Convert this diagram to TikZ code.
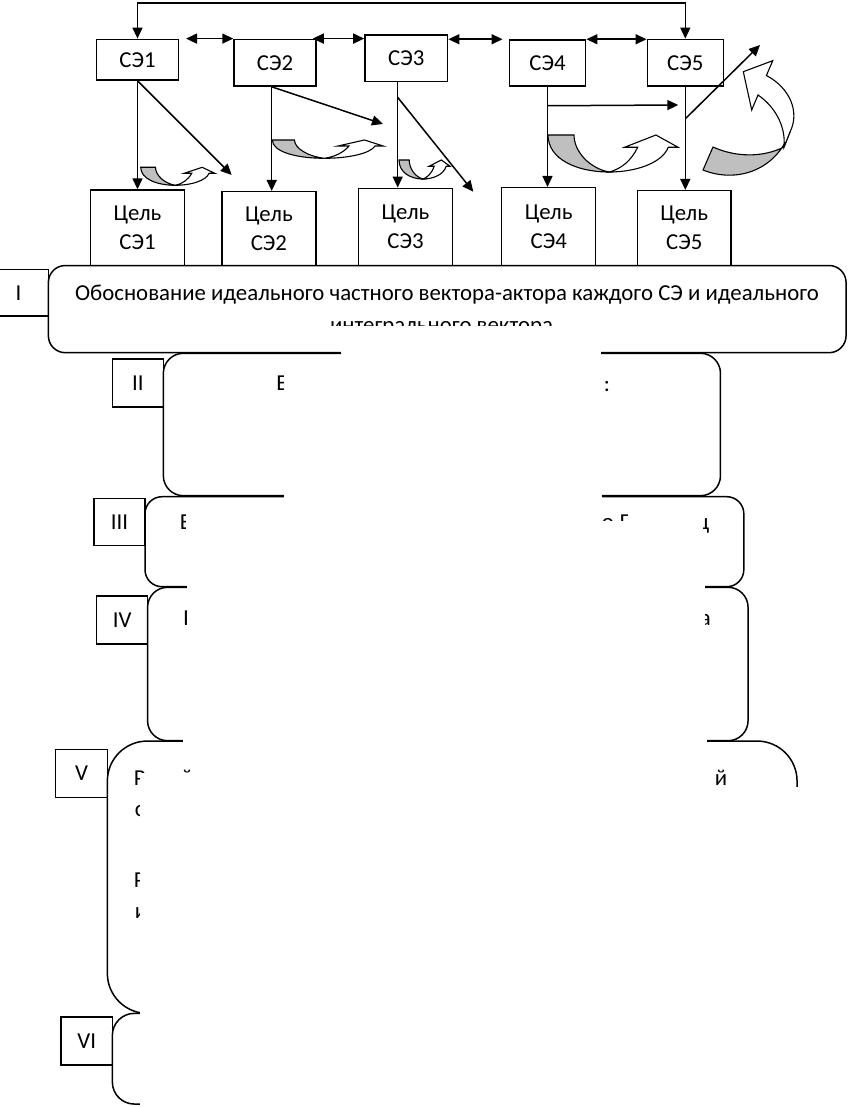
\documentclass[tikz,border=0pt]{standalone}
\usepackage{fontspec}
\setmainfont{Carlito}
\usetikzlibrary{arrows.meta,positioning,calc}

% curved ribbon arrow: x0, y0, width, height
\newcommand{\curvarrow}[4]{%
  \begin{scope}[shift={(#1,#2)},x=#3pt,y=-#4pt,line width=1.1pt]
    \filldraw[fill=black!25] (0,0) .. controls (0,0.65) and (0.22,1) .. (0.47,1)
      .. controls (0.32,0.9) and (0.2,0.45) .. (0.2,0) -- cycle;
    \filldraw[fill=white] (0.47,1) .. controls (0.68,1) and (0.88,0.75) .. (0.925,0.33)
      -- (1,0.33) -- (0.83,0) -- (0.59,0.33) -- (0.69,0.33)
      .. controls (0.64,0.7) and (0.56,0.92) .. (0.47,1) -- cycle;
  \end{scope}}

\tikzset{
  box/.style 2 args={draw,minimum width=#1,minimum height=#2,inner sep=0pt,
    align=center,font=\fontsize{22.8}{29}\selectfont},
  stage/.style 2 args={draw,fill=white,minimum width=#1,minimum height=#2,inner sep=0pt},
  frag/.style={anchor=base west,inner sep=0pt,font=\fontsize{22.8}{27}\selectfont},
  cover/.style={fill=white}
}

\begin{document}
\begin{tikzpicture}[x=1pt,y=-1pt,line width=1.5pt,>={Triangle[length=11pt,width=10pt]}]
\useasboundingbox (0,0) rectangle (850,1107);

% elements and their goals
\node[box={81.6pt}{40.7pt}] (se1) at (137.5,59.7) {СЭ1};
\node[box={82pt}{46.7pt}] (se2) at (275,62.7) {СЭ2};
\node[box={82.7pt}{46.7pt}] (se3) at (406.3,58.3) {СЭ3};
\node[box={76.4pt}{46pt}] (se4) at (547.5,63) {СЭ4};
\node[box={76pt}{46.7pt}] (se5) at (685.3,62.7) {СЭ5};

\node[box={93.6pt}{75.5pt}] (goal1) at (137.5,227.8) {Цель\\СЭ1};
\node[box={94.3pt}{73.8pt}] (goal2) at (268.9,228.6) {Цель\\СЭ2};
\node[box={94.4pt}{77.2pt}] (goal3) at (405.5,226.9) {Цель\\СЭ3};
\node[box={94pt}{77.8pt}] (goal4) at (548.7,226.6) {Цель\\СЭ4};
\node[box={93.7pt}{74.8pt}] (goal5) at (684.2,228.1) {Цель\\СЭ5};

% links between elements
\coordinate (topline) at (0,3);
\draw[<->] (se1.north) -- (se1.north |- topline) -- (se5.north |- topline) -- (se5.north);
\draw[<->] ([xshift=7pt]se1.north east) -- (se2.north west);
\draw[<->] ([xshift=-4pt]se2.north east) -- (se3.west |- se2.north);
\draw[<->] (se3.east |- se4.north) -- ([xshift=-6pt]se4.north west);
\draw[<->] (se4.north east) -- (se5.north west |- se4.north east);

\draw[->] (se1.south) -- (goal1.north);
\draw[->] ([xshift=-3.3pt]se2.south) -- ([xshift=-3.3pt]se2.south |- goal2.north);
\draw[->] ([xshift=-8.6pt]se3.south) -- ([xshift=-8.6pt]se3.south |- goal3.north);
\draw[->] (se4.south) -- (se4.south |- goal4.north);
\draw[->] (se5.south) -- (se5.south |- goal5.north);

\coordinate (d1) at (231.7,175);
\coordinate (d2) at (383,124);
\coordinate (d3) at (473.3,191.7);
\coordinate (d4) at (678.3,105);
\coordinate (d5) at (760,45);
\draw[->] (se1.south) -- (d1);
\draw[->] ([xshift=-3.3pt]se2.south) -- (d2);
\draw[->] ([xshift=-8.6pt,yshift=-15pt]se3.south) -- (d3);
\draw[->] ([yshift=-19pt]se4.south) -- (d4);
\draw[->] ([yshift=-32pt]se5.south) -- (d5);

\curvarrow{140.7}{167.3}{74}{18}
\curvarrow{272.3}{140}{111}{18.3}
\curvarrow{399}{160}{51}{19}
\curvarrow{548}{135}{130}{37}
\begin{scope}[line width=1.1pt]
  \filldraw[fill=black!25] (713,147) .. controls (735,157) and (762,158) .. (784,147)
    -- (790,132) .. controls (775,172) and (735,183) .. (703,170) -- cycle;
  \filldraw[fill=white] (784,147) .. controls (786,125) and (774,106) .. (758,95)
    -- (751.7,110) -- (743.3,71.7) -- (772.7,60.7) -- (766.4,75.5)
    .. controls (790,88) and (800,112) .. (790,132) -- cycle;
\end{scope}

% stages
\node[stage={797.7pt}{87.2pt},rounded corners=17pt] (bI) at (447.2,309.1) {};
\node[stage={557.1pt}{142.4pt},rounded corners=20pt] (bII) at (441.9,424.5) {};
\node[stage={598.8pt}{90pt},rounded corners=17pt] (bIII) at (444.4,541.7) {};
\node[stage={600.5pt}{153.4pt},rounded corners=20pt] (bIV) at (447.8,664) {};
\node[stage={689.7pt}{272.3pt},rounded corners=40pt] (bV) at (452.2,877.2) {};
\node[stage={684.7pt}{90.7pt},rounded corners=22pt] (bVI) at (454.7,1058.7) {};

\node[box={59.3pt}{46.7pt}] (nI) at (18.6,292.7) {I};
\node[box={51pt}{47.7pt}] (nII) at (137.8,382.9) {II};
\node[box={51pt}{47.4pt}] (nIII) at (119.5,522) {III};
\node[box={50.8pt}{48.3pt}] (nIV) at (122.1,619.9) {IV};
\node[box={51.6pt}{48pt}] (nV) at (81.5,773.3) {V};
\node[box={51.3pt}{48.3pt}] (nVI) at (86.7,1040.9) {VI};

\node[frag,anchor=base] (tIa) at (447,300) {Обоснование идеального частного вектора-актора каждого СЭ и идеального};
\node[frag,anchor=base] (tIb) at (441.5,332) {интегрального вектора};

\node[frag] (tIIa) at (275.5,390) {Е};
\node[frag] (tIIb) at (603,391) {:};
\node[frag] (tIIIa) at (179,529) {Е};
\node[frag] (tIIIb) at (601,529) {о.П};
\node[frag] (tIIIc) at (696,529) {ц};
\node[frag] (tIVa) at (182.5,625) {Р};
\node[frag] (tIVb) at (699,625) {а};
\node[frag] (tVa) at (133,785) {Р};
\node[frag] (tVb) at (180,785) {й};
\node[frag] (tVc) at (714,785) {й};
\node[frag] (tVd) at (134,816) {с};
\node[frag] (tVe) at (133,887) {Р};
\node[frag] (tVf) at (134,918) {и};

% blank area
\fill[cover] (322,326) rectangle (600,351);
\fill[cover] (341,351) rectangle (601,372);
\fill[cover] (284,372) rectangle (602,512);
\fill[cover] (186,512) rectangle (602,577);
\fill[cover] (600,521) rectangle (703,577);
\fill[cover] (628,505) rectangle (703,521);
\fill[cover] (187,577) rectangle (705,735);
\fill[cover] (183,735) rectangle (707,746);
\fill[cover] (190,746) rectangle (716,773);
\fill[cover] (140,773) rectangle (716,1107);
\fill[cover] (716,787) rectangle (850,1107);
\end{tikzpicture}
\end{document}
